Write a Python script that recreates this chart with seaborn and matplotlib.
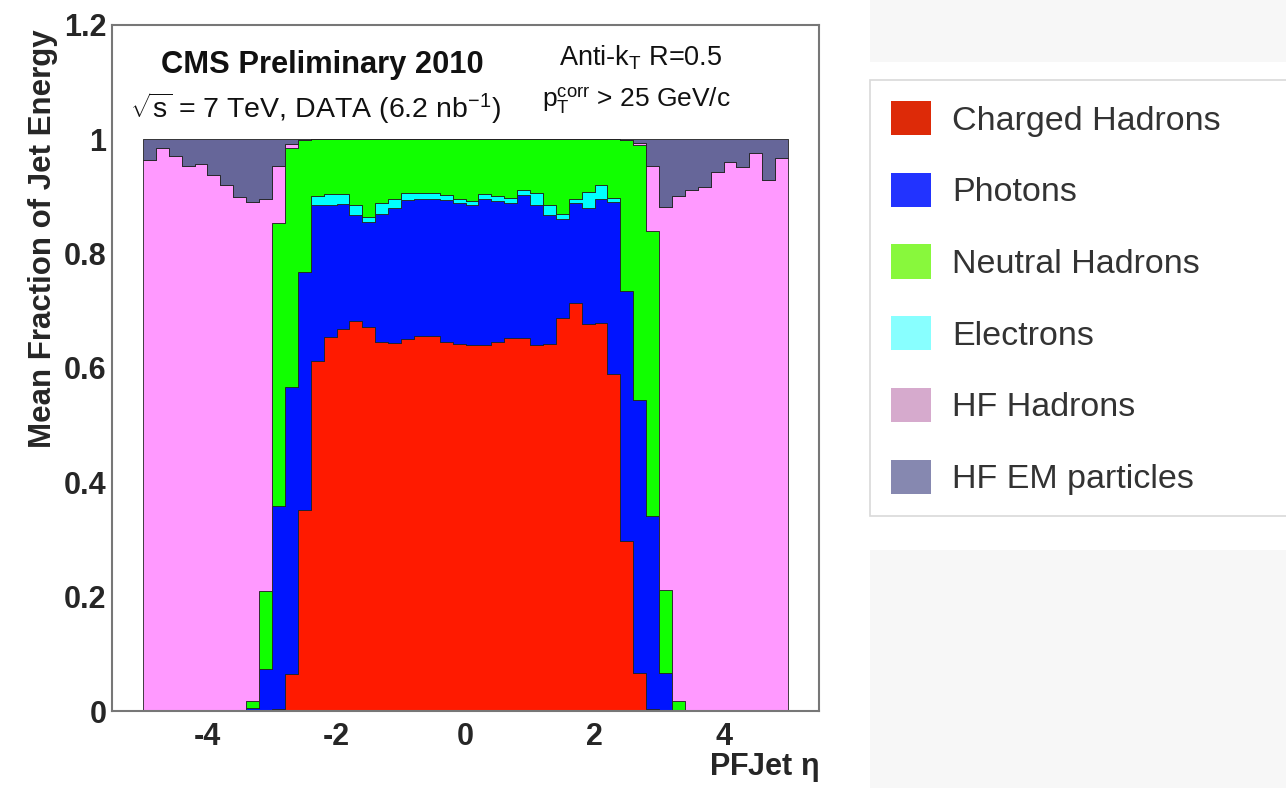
import numpy as np
import pandas as pd
import matplotlib
matplotlib.use("Agg")
import matplotlib.pyplot as plt
import seaborn as sns
from matplotlib.patches import Patch, Rectangle
from matplotlib.ticker import MultipleLocator, FixedLocator, FixedFormatter

# binning in PFJet eta: 50 bins of 0.2
eta_edges = np.linspace(-5, 5, 51)
eta_centers = 0.5 * (eta_edges[:-1] + eta_edges[1:])

# mean energy fraction per bin
charged_hadrons = [
    0, 0, 0, 0, 0, 0, 0, 0, 0, 0,
    0.003, 0.065, 0.351, 0.612, 0.654, 0.669, 0.682, 0.671, 0.645, 0.643,
    0.650, 0.656, 0.656, 0.645, 0.642, 0.641, 0.641, 0.645, 0.652, 0.652,
    0.640, 0.642, 0.687, 0.713, 0.677, 0.679, 0.589, 0.297, 0.066, 0.003,
    0, 0, 0, 0, 0, 0, 0, 0, 0, 0]
photons = [
    0, 0, 0, 0, 0, 0, 0, 0, 0.005, 0.074,
    0.356, 0.502, 0.417, 0.273, 0.231, 0.217, 0.186, 0.185, 0.225, 0.236,
    0.243, 0.240, 0.240, 0.248, 0.246, 0.244, 0.254, 0.247, 0.237, 0.250,
    0.245, 0.225, 0.173, 0.175, 0.202, 0.217, 0.301, 0.438, 0.478, 0.338,
    0.066, 0.002, 0, 0, 0, 0, 0, 0, 0, 0]
neutral_hadrons = [
    0, 0, 0, 0, 0, 0, 0, 0, 0.013, 0.136,
    0.495, 0.417, 0.231, 0.100, 0.096, 0.096, 0.115, 0.136, 0.112, 0.104,
    0.094, 0.094, 0.094, 0.098, 0.105, 0.108, 0.096, 0.100, 0.102, 0.089,
    0.094, 0.115, 0.130, 0.104, 0.092, 0.080, 0.102, 0.263, 0.446, 0.498,
    0.145, 0.015, 0, 0, 0, 0, 0, 0, 0, 0]
electrons = [
    0, 0, 0, 0, 0, 0, 0, 0, 0, 0,
    0, 0, 0, 0.015, 0.019, 0.018, 0.017, 0.008, 0.018, 0.017,
    0.013, 0.010, 0.010, 0.009, 0.007, 0.007, 0.009, 0.008, 0.009, 0.009,
    0.021, 0.018, 0.010, 0.008, 0.029, 0.024, 0.008, 0, 0, 0,
    0, 0, 0, 0, 0, 0, 0, 0, 0, 0]
hf_hadrons = [
    0.963, 0.984, 0.970, 0.953, 0.956, 0.937, 0.920, 0.899, 0.872, 0.685,
    0.099, 0.007, 0, 0, 0, 0, 0, 0, 0, 0,
    0, 0, 0, 0, 0, 0, 0, 0, 0, 0,
    0, 0, 0, 0, 0, 0, 0, 0, 0.003, 0.114,
    0.671, 0.883, 0.911, 0.916, 0.943, 0.960, 0.952, 0.976, 0.928, 0.968]
hf_em = [
    0.037, 0.016, 0.030, 0.047, 0.044, 0.063, 0.080, 0.101, 0.110, 0.105,
    0.047, 0.009, 0.001, 0, 0, 0, 0, 0, 0, 0,
    0, 0, 0, 0, 0, 0, 0, 0, 0, 0,
    0, 0, 0, 0, 0, 0, 0, 0.002, 0.007, 0.047,
    0.118, 0.100, 0.089, 0.084, 0.057, 0.040, 0.048, 0.024, 0.072, 0.032]

labels = ["Charged Hadrons", "Photons", "Neutral Hadrons", "Electrons",
          "HF Hadrons", "HF EM particles"]
series = [charged_hadrons, photons, neutral_hadrons, electrons, hf_hadrons, hf_em]
fill_colors = ["#ff1a00", "#0014ff", "#11ff00", "#00ffff", "#ff99ff", "#666699"]
legend_colors = ["#dd2a08", "#2233ff", "#88f83c", "#88ffff", "#d6aacd", "#8688b0"]
# order of the stack, bottom to top (electrons sit under the neutral hadrons)
stack_order = ["Charged Hadrons", "Photons", "Electrons", "Neutral Hadrons",
               "HF Hadrons", "HF EM particles"]

df = pd.DataFrame({
    "eta": np.tile(eta_centers, len(labels)),
    "fraction": np.concatenate(series),
    "component": np.repeat(labels, len(eta_centers)),
})

sns.set_style("white")
plt.rcParams["font.family"] = ["Liberation Sans", "DejaVu Sans"]
plt.rcParams["axes.unicode_minus"] = False
plt.rcParams["mathtext.fontset"] = "custom"
plt.rcParams["mathtext.rm"] = "Liberation Sans"
plt.rcParams["mathtext.it"] = "Liberation Sans:italic"
plt.rcParams["mathtext.bf"] = "Liberation Sans:bold"

fig = plt.figure(figsize=(12.86, 7.88), dpi=100)
ax = fig.add_axes([0.0871, 0.0977, 0.5498, 0.8706])

# seaborn puts the last hue level at the bottom of the stack
sns.histplot(data=df, x="eta", weights="fraction", hue="component",
             hue_order=stack_order[::-1], palette=dict(zip(labels, fill_colors)),
             binwidth=0.2, binrange=(-5, 5), multiple="stack", element="step",
             fill=True, alpha=1, edgecolor="#222222", linewidth=0.6,
             legend=False, ax=ax)

ax.set_xlim(-5.48, 5.48)
ax.set_ylim(0, 1.2)
ax.xaxis.set_major_locator(FixedLocator([-4, -2, 0, 2, 4]))
ax.xaxis.set_minor_locator(MultipleLocator(0.5))
ax.yaxis.set_major_locator(FixedLocator([0, 0.2, 0.4, 0.6, 0.8, 1.0, 1.2]))
ax.yaxis.set_major_formatter(FixedFormatter(["0", "0.2", "0.4", "0.6", "0.8", "1", "1.2"]))
ax.yaxis.set_minor_locator(MultipleLocator(0.05))
ax.tick_params(which="both", direction="in", color="#666666", top=False, right=False)
ax.tick_params(which="major", length=15, width=1.2, labelsize=22)
ax.tick_params(which="minor", length=7.5, width=1.0)
ax.tick_params(axis="y", pad=4)
ax.tick_params(axis="x", pad=8)
for lab in ax.get_xticklabels() + ax.get_yticklabels():
    lab.set_fontweight("bold")
for sp in ax.spines.values():
    sp.set_color("#777777")
    sp.set_linewidth(1.5)

ax.set_ylabel("Mean Fraction of Jet Energy", fontsize=22.5, fontweight="bold", loc="top")
ax.yaxis.set_label_coords(-0.077, 0.993)
ax.set_xlabel("PFJet $\\mathregular{\\eta}$", fontsize=22, fontweight="bold", loc="right")
ax.xaxis.set_label_coords(1.0, -0.058)

ax.text(0.297, 0.942, "CMS Preliminary 2010", transform=ax.transAxes,
        ha="center", va="center", fontsize=22.2, fontweight="bold", color="#111111")
ax.text(0.288, 0.879, "$\\sqrt{\\mathregular{s}}$ = 7 TeV, DATA (6.2 nb$^{\\mathregular{-1}}$)",
        transform=ax.transAxes, ha="center", va="center", fontsize=20.5, color="#111111")
ax.text(0.748, 0.952, "Anti-k$_{\\mathregular{T}}$ R=0.5", transform=ax.transAxes,
        ha="center", va="center", fontsize=19.5, color="#111111")
ax.text(0.742, 0.889, "$\\mathregular{p_{T}^{corr}}$ > 25 GeV/c", transform=ax.transAxes,
        ha="center", va="center", fontsize=19, color="#111111")

# light panels on the right
fig.patches.append(Rectangle((0.6765, 0.921), 0.33, 0.08, transform=fig.transFigure,
                             facecolor="#f7f7f7", edgecolor="none", zorder=0))
fig.patches.append(Rectangle((0.6765, 0.0), 0.33, 0.302, transform=fig.transFigure,
                             facecolor="#f7f7f7", edgecolor="none", zorder=0))

handles = [Patch(facecolor=c, edgecolor="none") for c in legend_colors]
leg = fig.legend(handles, labels, loc="upper left",
                 bbox_to_anchor=(0.6765, 0.8985, 0.33, 0.0), mode="expand",
                 fontsize=24.5, frameon=True, fancybox=False, handlelength=1.17,
                 handleheight=1.17, handletextpad=0.62, labelspacing=1.06,
                 borderpad=0.62, borderaxespad=0.0)
leg.get_frame().set_edgecolor("#d0d0d0")
leg.get_frame().set_linewidth(1.2)
for t in leg.get_texts():
    t.set_color("#333333")

fig.savefig("out.png", dpi=100)
